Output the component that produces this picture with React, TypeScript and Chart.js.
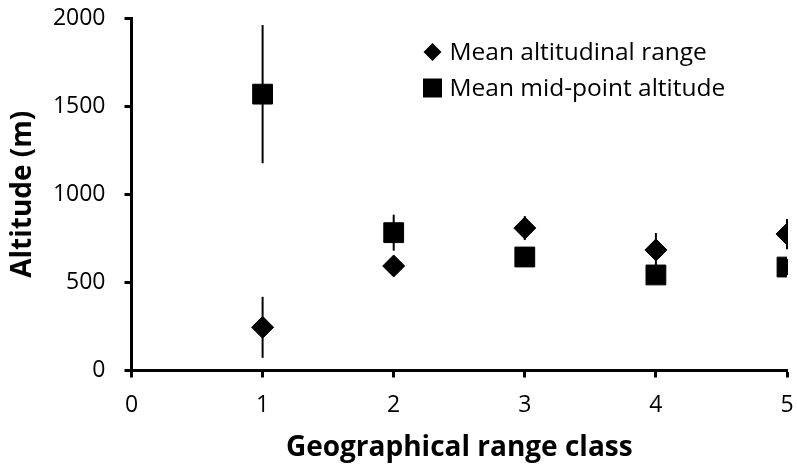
import React, { useEffect, useRef } from 'react';
import { Chart, registerables } from 'chart.js';

Chart.register(...registerables);

// ---- Data ----
const rangeClasses = [1, 2, 3, 4, 5];
const altRangeMean = [245, 593, 808, 684, 774];
const altRangeErr = [173, 45, 68, 96, 86];
const midPointMean = [1568, 782, 644, 542, 587];
const midPointErr = [392, 102, 45, 45, 45];
const xTickValues = [0, 1, 2, 3, 4, 5];
const yTickValues = [0, 500, 1000, 1500, 2000];
const seriesLabels = ['Mean altitudinal range', 'Mean mid-point altitude'];
const xTitle = 'Geographical range class';
const yTitle = 'Altitude (m)';

const FONT = "'Open Sans', 'Liberation Sans', sans-serif";

export default function App() {
  const ref = useRef<HTMLCanvasElement>(null);

  useEffect(() => {
    document.body.style.margin = '0';
    const canvas = ref.current;
    if (!canvas) return;

    const errorBars = {
      id: 'errorBars',
      beforeDatasetsDraw(chart: any) {
        const { ctx, scales } = chart;
        const x = scales.x;
        const y = scales.y;
        ctx.save();
        ctx.strokeStyle = '#000';
        ctx.lineWidth = 2;
        chart.data.datasets.forEach((ds: any) => {
          ds.data.forEach((p: any) => {
            const px = x.getPixelForValue(p.x);
            ctx.beginPath();
            ctx.moveTo(px, y.getPixelForValue(p.y - p.err));
            ctx.lineTo(px, y.getPixelForValue(p.y + p.err));
            ctx.stroke();
          });
        });
        ctx.restore();
      },
    };

    const insideLegend = {
      id: 'insideLegend',
      afterDraw(chart: any) {
        const { ctx, chartArea } = chart;
        const mx = chartArea.left + 301;
        const ys = [chartArea.top + 34, chartArea.top + 70];
        ctx.save();
        ctx.fillStyle = '#000';
        ctx.font = `24.5px ${FONT}`;
        ctx.textBaseline = 'middle';
        ctx.textAlign = 'left';
        chart.data.datasets.forEach((ds: any, i: number) => {
          const cy = ys[i];
          ctx.beginPath();
          if (ds.pointStyle === 'rectRot') {
            const r = 9;
            ctx.moveTo(mx - r, cy);
            ctx.lineTo(mx, cy - r);
            ctx.lineTo(mx + r, cy);
            ctx.lineTo(mx, cy + r);
            ctx.closePath();
          } else {
            const h = 9.5;
            ctx.rect(mx - h, cy - h, 2 * h, 2 * h);
          }
          ctx.fill();
          ctx.fillText(ds.label, mx + 17, cy + 1);
        });
        ctx.restore();
      },
    };

    const chart = new Chart(canvas, {
      type: 'scatter',
      data: {
        datasets: [
          {
            label: seriesLabels[0],
            data: rangeClasses.map((c, i) => ({ x: c, y: altRangeMean[i], err: altRangeErr[i] })),
            pointStyle: 'rectRot',
            pointRadius: 11,
            pointHoverRadius: 11,
            backgroundColor: '#000',
            borderColor: '#000',
            borderWidth: 1,
          },
          {
            label: seriesLabels[1],
            data: rangeClasses.map((c, i) => ({ x: c, y: midPointMean[i], err: midPointErr[i] })),
            pointStyle: 'rect',
            pointRadius: 14,
            pointHoverRadius: 14,
            backgroundColor: '#000',
            borderColor: '#000',
            borderWidth: 1,
          },
        ],
      },
      options: {
        responsive: false,
        animation: false,
        devicePixelRatio: 1,
        layout: { padding: { top: 18, right: 15, left: 0, bottom: 0 } },
        plugins: {
          legend: { display: false },
          tooltip: { enabled: false },
        },
        scales: {
          x: {
            type: 'linear',
            min: 0,
            max: 5,
            afterBuildTicks: (s: any) => {
              s.ticks = xTickValues.map((v) => ({ value: v }));
            },
            afterFit: (s: any) => {
              s.height = 96.5;
              s.paddingLeft = 0;
              s.paddingRight = 0;
            },
            grid: {
              drawOnChartArea: false,
              drawTicks: true,
              tickLength: 7,
              tickWidth: 3,
              tickColor: '#000',
            },
            border: { display: true, color: '#000', width: 3 },
            ticks: {
              color: '#000',
              font: { family: FONT, size: 23 },
              padding: 14,
              callback: (v: any) => String(v),
            },
            title: {
              display: true,
              text: xTitle,
              color: '#000',
              font: { family: FONT, size: 28, weight: 'bold' },
              padding: { top: 0, bottom: 2 },
            },
          },
          y: {
            type: 'linear',
            min: 0,
            max: 2000,
            afterBuildTicks: (s: any) => {
              s.ticks = yTickValues.map((v) => ({ value: v }));
            },
            afterFit: (s: any) => {
              s.width = 131.5;
              s.paddingTop = 0;
              s.paddingBottom = 0;
            },
            grid: {
              drawOnChartArea: false,
              drawTicks: true,
              tickLength: 7,
              tickWidth: 3,
              tickColor: '#000',
            },
            border: { display: true, color: '#000', width: 3 },
            ticks: {
              color: '#000',
              font: { family: FONT, size: 23 },
              padding: 19,
              callback: (v: any) => String(v),
            },
            title: {
              display: true,
              text: yTitle,
              color: '#000',
              font: { family: FONT, size: 28, weight: 'bold' },
              padding: { top: 6, bottom: 0 },
            },
          },
        },
      },
      plugins: [errorBars, insideLegend],
    } as any);

    return () => chart.destroy();
  }, []);

  return (
    <div style={{ width: 797, height: 467, overflow: 'hidden' }}>
      <canvas ref={ref} width={802} height={467} style={{ display: 'block' }} />
    </div>
  );
}
